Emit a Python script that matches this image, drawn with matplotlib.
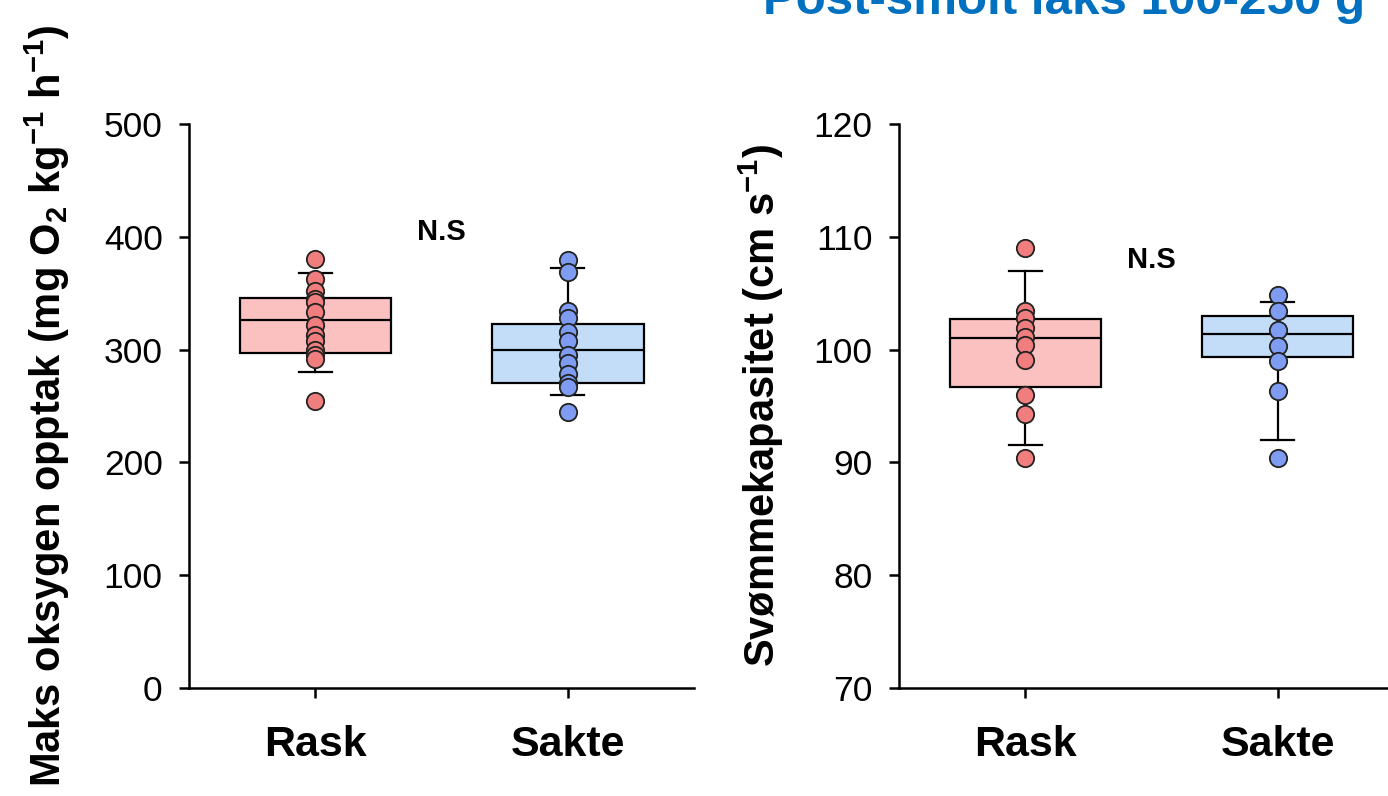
import numpy as np
import matplotlib.pyplot as plt

# Data
groups = ["Rask", "Sakte"]

# Maks oksygen opptak (mg O2 kg-1 h-1)
mo2_rask = [380, 363, 352, 345, 342, 333, 322, 313, 308, 300, 295, 292, 254]
mo2_sakte = [379, 369, 334, 328, 316, 308, 295, 288, 278, 270, 267, 245]
mo2_q1 = [297, 270]
mo2_med = [326, 300]
mo2_q3 = [346, 323]
mo2_lo = [280, 260]
mo2_hi = [368, 372]

# Svømmekapasitet (cm s-1)
ucrit_rask = [109.0, 103.4, 102.8, 101.9, 101.1, 100.4, 99.1, 96.0, 94.3, 90.4]
ucrit_sakte = [104.8, 103.4, 101.7, 100.3, 99.0, 96.3, 90.4]
ucrit_q1 = [96.7, 99.3]
ucrit_med = [101.0, 101.4]
ucrit_q3 = [102.7, 103.0]
ucrit_lo = [91.5, 92.0]
ucrit_hi = [107.0, 104.2]

box_colors = ["#FBC1C1", "#C3DDF9"]
dot_colors = ["#F07E7E", "#7E9CF2"]

plt.rcParams["font.family"] = ["Liberation Sans", "DejaVu Sans"]
plt.rcParams["mathtext.fontset"] = "custom"
plt.rcParams["mathtext.bf"] = "Liberation Sans:bold"
plt.rcParams["mathtext.rm"] = "Liberation Sans"

fig = plt.figure(figsize=(13.88, 7.96), dpi=100)
ax1 = fig.add_axes([0.1362, 0.1357, 0.3638, 0.7085])
ax2 = fig.add_axes([0.6477, 0.1357, 0.3638, 0.7085])

pos = [0.25, 0.75]


def draw_panel(ax, points, q1, med, q3, lo, hi):
    stats = []
    for i in range(2):
        stats.append({"med": med[i], "q1": q1[i], "q3": q3[i],
                      "whislo": lo[i], "whishi": hi[i], "fliers": []})
    bp = ax.bxp(stats, positions=pos, widths=0.30, patch_artist=True,
                showfliers=False, manage_ticks=False,
                boxprops=dict(linewidth=1.6, edgecolor="black"),
                medianprops=dict(color="black", linewidth=1.6),
                whiskerprops=dict(color="black", linewidth=1.6),
                capprops=dict(color="black", linewidth=1.6), capwidths=0.065)
    for patch, c in zip(bp["boxes"], box_colors):
        patch.set_facecolor(c)
    for i, vals in enumerate(points):
        ax.plot([pos[i]] * len(vals), vals, "o", ms=12.5, mfc=dot_colors[i],
                mec="#222222", mew=1.3, zorder=5, clip_on=False)
    ax.set_xlim(0, 1)
    ax.set_xticks(pos)
    ax.set_xticklabels(groups, fontsize=31, fontweight="bold")
    for s in ["top", "right"]:
        ax.spines[s].set_visible(False)
    for s in ["left", "bottom"]:
        ax.spines[s].set_linewidth(1.8)
    ax.tick_params(axis="y", labelsize=25.5, length=7, width=1.8, pad=12)
    ax.tick_params(axis="x", length=7, width=1.8, pad=20)


draw_panel(ax1, [mo2_rask, mo2_sakte], mo2_q1, mo2_med, mo2_q3, mo2_lo, mo2_hi)
ax1.set_ylim(0, 500)
ax1.set_yticks(np.arange(0, 501, 100))
ax1.set_ylabel(r"Maks oksygen opptak (mg O$_\mathbf{2}$ kg$^\mathbf{-1}$ h$^\mathbf{-1}$)",
               fontsize=30, fontweight="bold", labelpad=23)
ax1.text(0.5, 404, "N.S", ha="center", va="center", fontsize=21, fontweight="bold")

draw_panel(ax2, [ucrit_rask, ucrit_sakte], ucrit_q1, ucrit_med, ucrit_q3, ucrit_lo, ucrit_hi)
ax2.set_ylim(70, 120)
ax2.set_yticks(np.arange(70, 121, 10))
ax2.set_ylabel(r"Svømmekapasitet (cm s$^\mathbf{-1}$)", fontsize=30,
               fontweight="bold", labelpad=20)
ax2.text(0.5, 107.9, "N.S", ha="center", va="center", fontsize=21, fontweight="bold")

fig.text(0.9834, 0.9824, "Post-smolt laks 100-250 g", ha="right", va="baseline",
         fontsize=35.5, fontweight="bold", color="#0070C0")

fig.savefig("out.png", dpi=100)
